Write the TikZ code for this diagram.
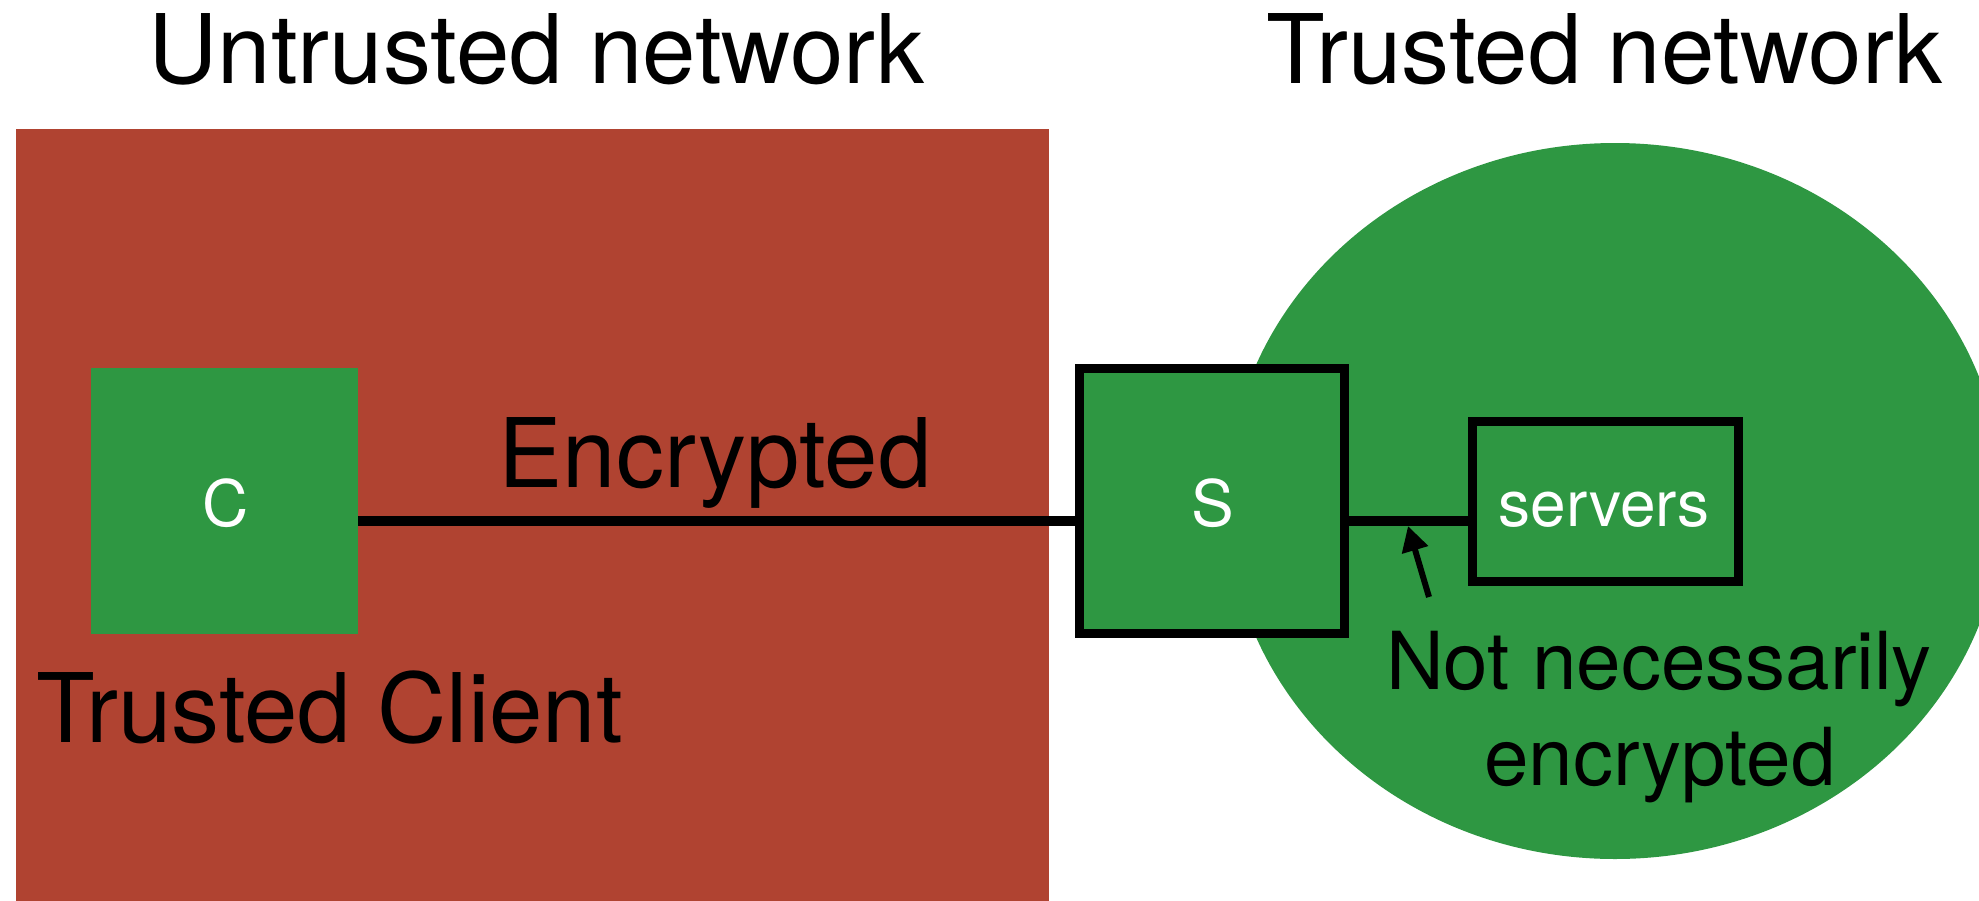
\documentclass[tikz,border=0pt]{standalone}
\usepackage{fontspec}
\setmainfont{TeX Gyre Heros}
\usetikzlibrary{arrows.meta}
\definecolor{untrustred}{RGB}{176,67,49}
\definecolor{trustgreen}{RGB}{46,151,66}
\begin{document}
\begin{tikzpicture}[x=1pt,y=-1pt,
  bigtext/.style={font=\fontsize{96}{96}\selectfont, inner sep=0pt, anchor=base},
  notetext/.style={font=\fontsize{80}{80}\selectfont, inner sep=0pt, anchor=base},
  boxlabel/.style={font=\fontsize{64}{64}\selectfont, text=white, inner sep=0pt, anchor=base},
  greenbox/.style={fill=trustgreen, inner sep=0pt},
  framedbox/.style={greenbox, draw=black, line width=9pt},
  link/.style={draw=black, line width=10pt},
  pointer/.style={draw=black, line width=6pt, -{Triangle[length=25pt,width=26pt]}}]
\useasboundingbox (0,0) rectangle (1979,900);
\clip (0,0) rectangle (1979,900);
% regions
\fill[untrustred] (16,129) rectangle (1049,905);
\fill[trustgreen] (1615,501) ellipse [x radius=388pt, y radius=358pt];
% boxes
\node[greenbox, minimum width=267pt, minimum height=266pt] (C) at (224.5,501) {};
\node[framedbox, minimum width=265pt, minimum height=265pt] (S) at (1212,501) {};
\node[framedbox, minimum width=266pt, minimum height=160pt] (srv) at (1605.5,501.5) {};
% connectors
\draw[link] ([yshift=-20pt]C.east) -- ([yshift=-20pt]S.west);
\draw[link] ([yshift=-20pt]S.east) -- ([yshift=-19.5pt]srv.west);
\coordinate (tail) at (1429,597);
\coordinate (tip) at (1408,526);
\draw[pointer] (tail) -- (tip);
% box labels
\node[boxlabel] (Clab) at (226,526) {C};
\node[boxlabel] (Slab) at (1213,526) {S};
\node[boxlabel] (srvlab) at (1604,526) {servers};
% texts
\node[bigtext] (untr) at (536.5,83) {Untrusted network};
\node[bigtext] (trn) at (1604.5,83) {Trusted network};
\node[bigtext] (enc) at (715,487) {Encrypted};
\node[bigtext] (tcl) at (329.5,742) {Trusted Client};
\node[notetext] (nn1) at (1659,689) {Not necessarily};
\node[notetext] (nn2) at (1660,785) {encrypted};
\end{tikzpicture}
\end{document}
